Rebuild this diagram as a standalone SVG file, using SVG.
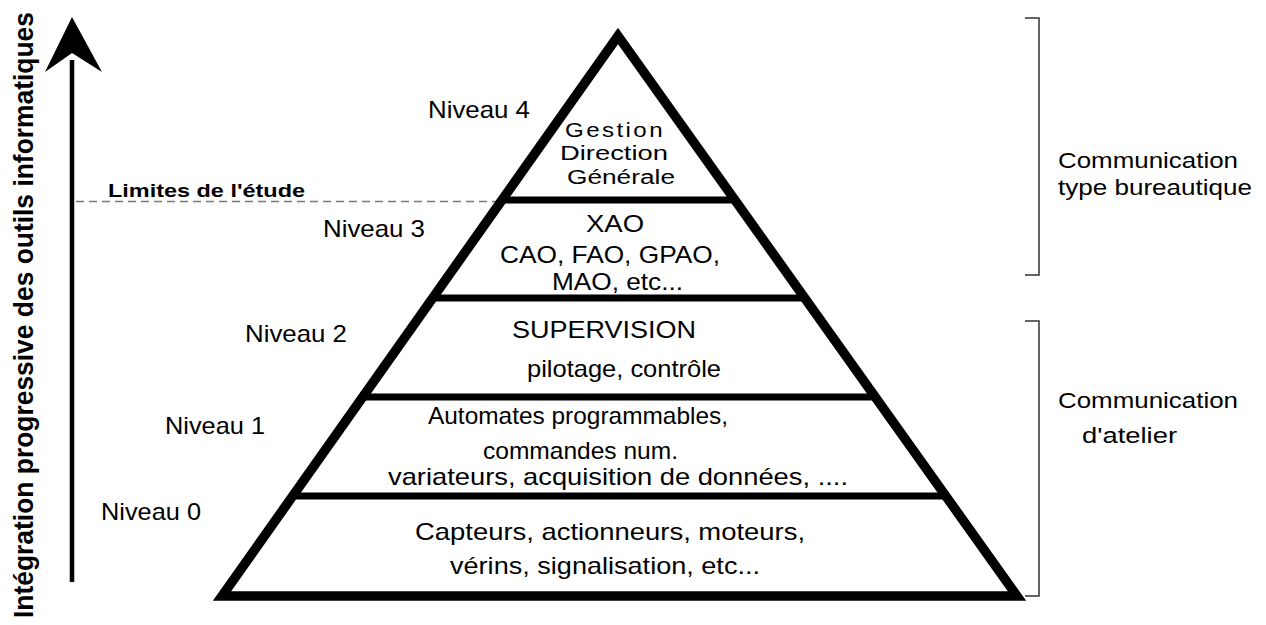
<svg xmlns="http://www.w3.org/2000/svg" width="1266" height="625" viewBox="0 0 1266 625">
<style>
  .t{font-family:"Liberation Sans",Arial,sans-serif;font-size:24px;fill:#000}
  .s{font-family:"Liberation Sans",Arial,sans-serif;font-size:20px;fill:#000}
  .r{font-family:"Liberation Sans",Arial,sans-serif;font-size:22px;fill:#000}
  .b{font-family:"Liberation Sans",Arial,sans-serif;font-weight:bold;fill:#000}
  .edge{fill:none;stroke:#000;stroke-width:9.5;stroke-linejoin:miter}
  .div{stroke:#000;stroke-width:7}
  .br{fill:none;stroke:#333;stroke-width:1.5}
</style>
<rect width="1266" height="625" fill="#fff"/>

<g id="axis">
  <line x1="72" y1="582" x2="72" y2="60" stroke="#000" stroke-width="4.5"/>
  <polygon points="72,17 102,72 72,53 45,72" fill="#000"/>
  <text class="b" font-size="27" transform="translate(33,618) rotate(-90)" textLength="606" lengthAdjust="spacingAndGlyphs">Intégration progressive des outils informatiques</text>
</g>

<g id="limit">
  <line x1="76" y1="201.5" x2="502" y2="201.5" stroke="#777" stroke-width="1.3" stroke-dasharray="8,5"/>
  <text class="b" font-size="19" x="108" y="197" textLength="197" lengthAdjust="spacingAndGlyphs">Limites de l'étude</text>
</g>

<g id="pyramid">
  <polygon class="edge" points="618,36 1017,596 222,596"/>
  <line class="div" x1="502" y1="200" x2="735" y2="200"/>
  <line class="div" x1="433" y1="298" x2="804" y2="298"/>
  <line class="div" x1="363" y1="397" x2="875" y2="397"/>
  <line class="div" x1="293" y1="496" x2="945" y2="496"/>
</g>

<g id="level4">
  <text class="t" x="428" y="118" textLength="102" lengthAdjust="spacingAndGlyphs">Niveau 4</text>
  <text class="s" x="565" y="137" letter-spacing="2" textLength="100" lengthAdjust="spacingAndGlyphs">Gestion</text>
  <text class="s" x="560" y="160" textLength="108" lengthAdjust="spacingAndGlyphs">Direction</text>
  <text class="s" x="567" y="184" textLength="108" lengthAdjust="spacingAndGlyphs">Générale</text>
</g>

<g id="level3">
  <text class="t" x="323" y="237" textLength="102" lengthAdjust="spacingAndGlyphs">Niveau 3</text>
  <text class="t" x="586" y="232" textLength="58" lengthAdjust="spacingAndGlyphs">XAO</text>
  <text class="t" x="500" y="263" textLength="220" lengthAdjust="spacingAndGlyphs">CAO, FAO, GPAO,</text>
  <text class="t" x="552" y="290" textLength="131" lengthAdjust="spacingAndGlyphs">MAO, etc...</text>
</g>

<g id="level2">
  <text class="t" x="245" y="342" textLength="102" lengthAdjust="spacingAndGlyphs">Niveau 2</text>
  <text class="t" x="512" y="338" textLength="184" lengthAdjust="spacingAndGlyphs">SUPERVISION</text>
  <text class="t" x="527" y="377" textLength="194" lengthAdjust="spacingAndGlyphs">pilotage, contrôle</text>
</g>

<g id="level1">
  <text class="t" x="165" y="434" textLength="100" lengthAdjust="spacingAndGlyphs">Niveau 1</text>
  <text class="t" x="428" y="424" textLength="300" lengthAdjust="spacingAndGlyphs">Automates programmables,</text>
  <text class="t" x="483" y="459" textLength="195" lengthAdjust="spacingAndGlyphs">commandes num.</text>
  <text class="t" x="388" y="485" textLength="460" lengthAdjust="spacingAndGlyphs">variateurs, acquisition de données, ....</text>
</g>

<g id="level0">
  <text class="t" x="101" y="520" textLength="100" lengthAdjust="spacingAndGlyphs">Niveau 0</text>
  <text class="t" x="415" y="540" textLength="390" lengthAdjust="spacingAndGlyphs">Capteurs, actionneurs, moteurs,</text>
  <text class="t" x="450" y="574" textLength="310" lengthAdjust="spacingAndGlyphs">vérins, signalisation, etc...</text>
</g>

<g id="bracket-bureau">
  <path class="br" d="M1025,18 H1039 V275 H1025"/>
  <text class="r" x="1058" y="168" textLength="180" lengthAdjust="spacingAndGlyphs">Communication</text>
  <text class="r" x="1058" y="195" textLength="194" lengthAdjust="spacingAndGlyphs">type bureautique</text>
</g>

<g id="bracket-atelier">
  <path class="br" d="M1025,321 H1039 V596 H1025"/>
  <text class="r" x="1058" y="408" textLength="180" lengthAdjust="spacingAndGlyphs">Communication</text>
  <text class="r" x="1082" y="443" textLength="95" lengthAdjust="spacingAndGlyphs">d'atelier</text>
</g>
</svg>
